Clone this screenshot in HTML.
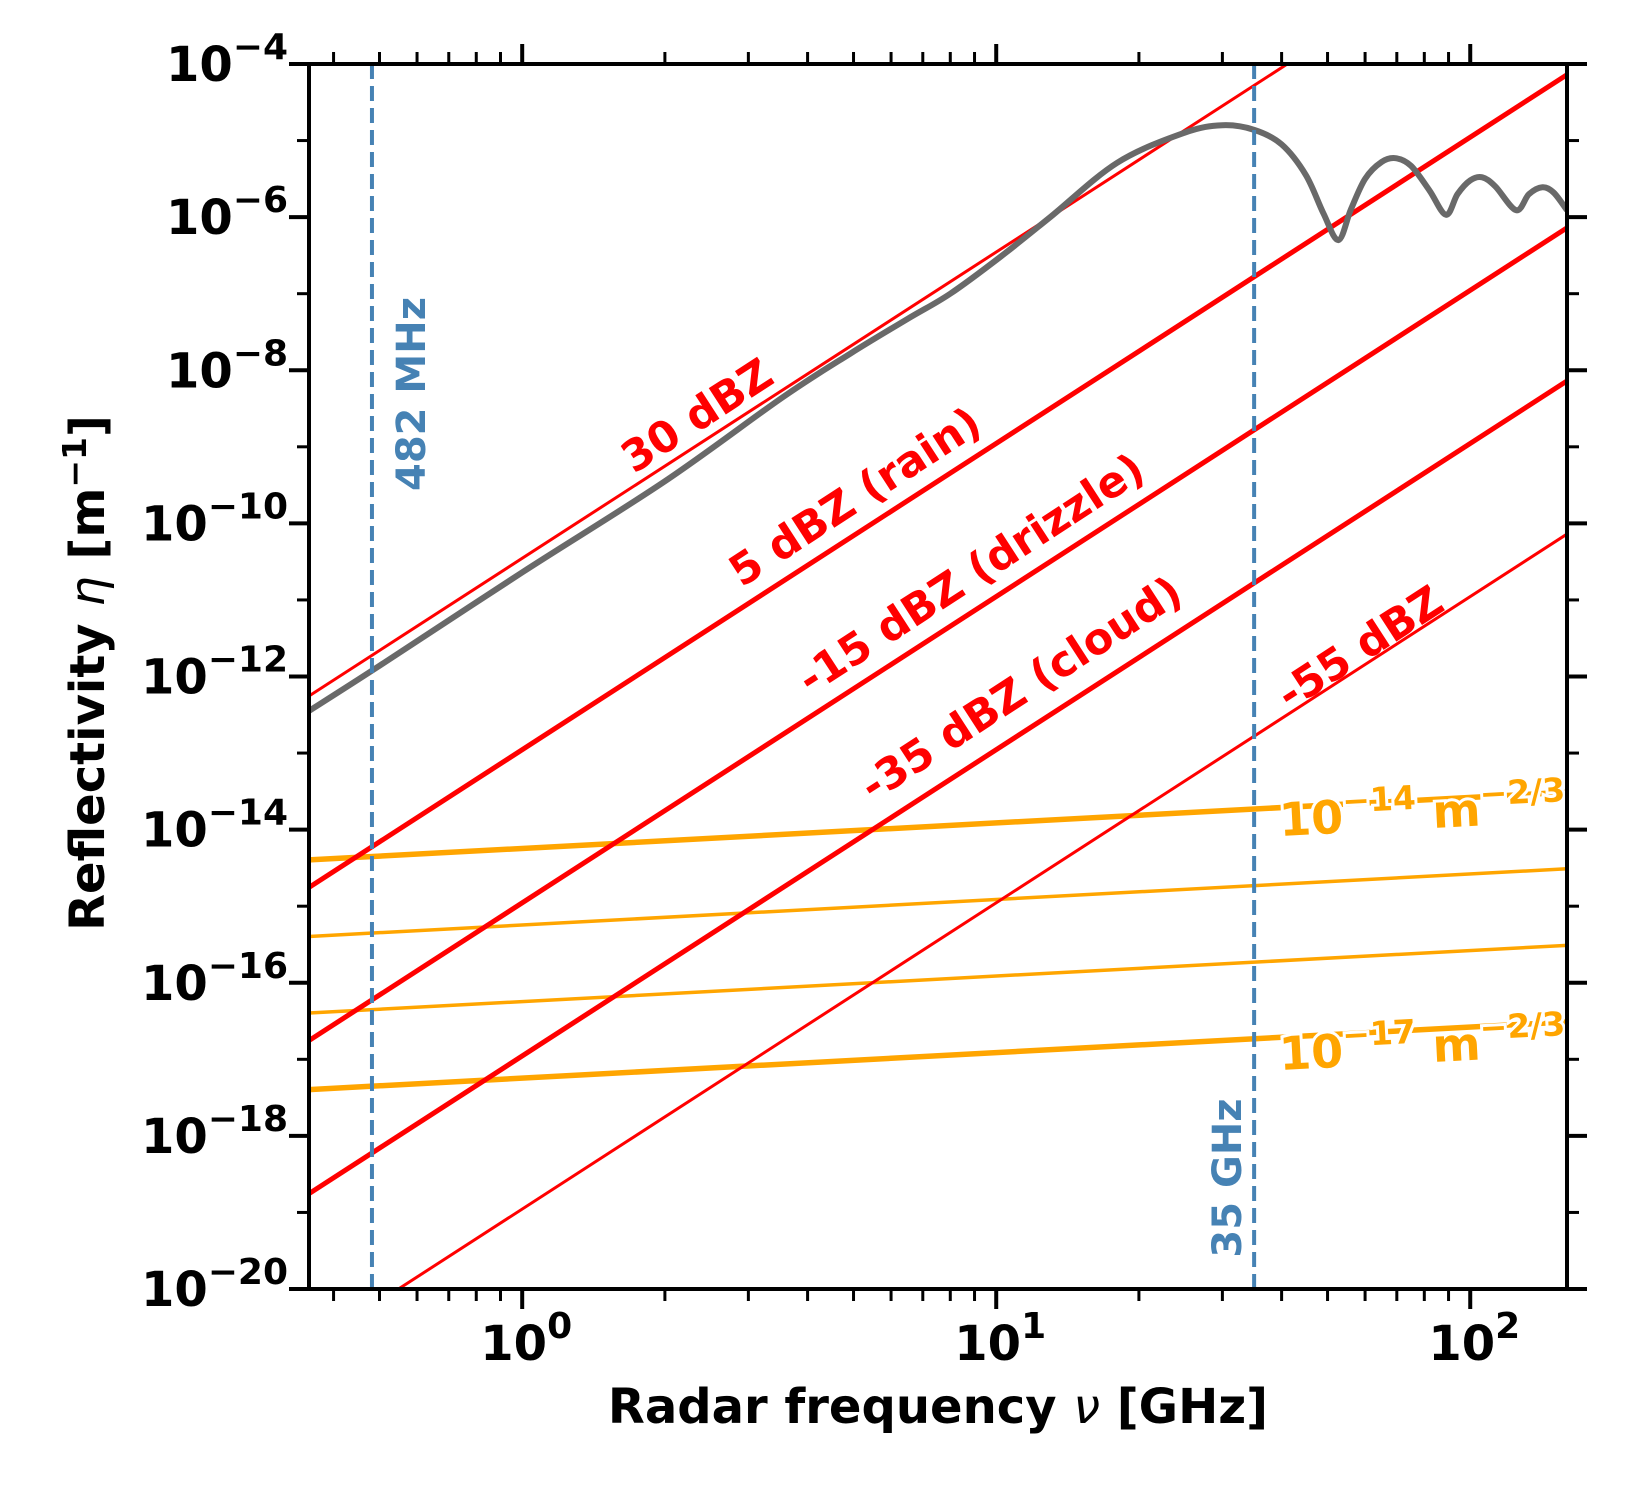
<!DOCTYPE html>
<html><head><meta charset="utf-8"><style>
html,body{margin:0;padding:0;background:#fff;}
svg{display:block;font-family:"DejaVu Sans","Liberation Sans",sans-serif;font-weight:bold;}
</style></head><body>
<svg id="chart" width="1625" height="1500" viewBox="0 0 1625 1500" xmlns="http://www.w3.org/2000/svg">
<g id="plot"></g>
<g id="axes"></g>
<text x="938" y="1423" font-size="48" text-anchor="middle">Radar frequency <tspan font-style="italic" font-weight="normal">ν</tspan> [GHz]</text>
<text transform="translate(104,673) rotate(-90)" font-size="48" text-anchor="middle">Reflectivity <tspan font-style="italic" font-weight="normal">η</tspan> [m<tspan dy="-18" font-size="33">−1</tspan><tspan dy="18">]</tspan></text>
</svg>
<script>
// ---- data ----
const dbzLevels = [30, 5, -15, -35, -55];
const dbzLabels = ["30 dBZ", "5 dBZ (rain)", "-15 dBZ (drizzle)", "-35 dBZ (cloud)", "-55 dBZ"];
const dbzThick = [false, true, true, true, false];
const cn2Exponents = [-14, -15, -16, -17];
const cn2Thick = [true, false, false, true];
const markerFreqs = [0.482, 35];
const markerLabels = ["482 MHz", "35 GHz"];
const mieFreq = [0.355,0.5,1,2,3.55,4.93,6.5,8,10.2,13,18,24.9,30,35,40,45,49,52.7,56,60,65,69.6,75,82,88.9,94,100,106,113,125,133,142,150,160];
const mieLogEta = [-12.45,-11.86,-10.64,-9.45,-8.35,-7.78,-7.33,-7.0,-6.52,-6.0,-5.29,-4.90,-4.80,-4.86,-5.05,-5.45,-5.95,-6.30,-5.9,-5.5,-5.28,-5.23,-5.33,-5.65,-5.97,-5.7,-5.52,-5.48,-5.6,-5.91,-5.7,-5.61,-5.68,-5.91];
const yMajorTicks = [-20,-18,-16,-14,-12,-10,-8,-6,-4];
const xMajorTicks = [0,1,2];

// ---- axis functions ----
const L=309,R=1567,T=64,B=1289;
const xMin=Math.log10(0.355), xMax=Math.log10(160), yMin=-20, yMax=-4;
const X = f => L+(Math.log10(f)-xMin)/(xMax-xMin)*(R-L);
const Y = le => B-(le-yMin)/(yMax-yMin)*(B-T);
const NS="http://www.w3.org/2000/svg";
function mk(tag,attrs,parent){const e=document.createElementNS(NS,tag);for(const k in attrs)e.setAttribute(k,attrs[k]);parent.appendChild(e);return e;}
const plot=document.getElementById('plot'), axes=document.getElementById('axes');
const A=3.5e-14; // eta per GHz^4 at Z = 1 mm^6/m^3

const defs=mk('defs',{},plot);
const cp=mk('clipPath',{id:'clip'},defs);
mk('rect',{x:L,y:T,width:R-L,height:B-T},cp);
const pg=mk('g',{'clip-path':'url(#clip)'},plot);

cn2Exponents.forEach((ex,i)=>{
  const le=f=>Math.log10(0.38)+ex+(-1/3)*Math.log10(0.2998/f);
  const l=mk('line',{x1:X(0.355),y1:Y(le(0.355)),x2:X(160),y2:Y(le(160)),stroke:'#ffa500','stroke-width':cn2Thick[i]?5.5:3.5},pg);
  
  
});
dbzLevels.forEach((d,i)=>{
  const le=f=>Math.log10(A)+4*Math.log10(f)+d/10;
  const l=mk('line',{x1:X(0.355),y1:Y(le(0.355)),x2:X(160),y2:Y(le(160)),stroke:'#ff0000','stroke-width':dbzThick[i]?5:3},pg);
  
  
});
const pts=mieFreq.map((f,i)=>[X(f),Y(mieLogEta[i])]);
let d='M'+pts[0][0]+','+pts[0][1];
for(let i=0;i<pts.length-1;i++){
  const p0=pts[Math.max(0,i-1)],p1=pts[i],p2=pts[i+1],p3=pts[Math.min(pts.length-1,i+2)];
  const c1=[p1[0]+(p2[0]-p0[0])/6,p1[1]+(p2[1]-p0[1])/6],c2=[p2[0]-(p3[0]-p1[0])/6,p2[1]-(p3[1]-p1[1])/6];
  d+=` C${c1[0]},${c1[1]} ${c2[0]},${c2[1]} ${p2[0]},${p2[1]}`;
}
const mie=mk('path',{d:d,fill:'none',stroke:'#696969','stroke-width':6,'stroke-linejoin':'round'},pg);


markerFreqs.forEach((f,i)=>{
  const l=mk('line',{x1:X(f),y1:T,x2:X(f),y2:B,stroke:'#4682b4','stroke-width':4,'stroke-dasharray':'15,7'},pg);
  
  
});
const m1=mk('text',{transform:`translate(${X(0.482)+53},${394}) rotate(-90)`,'font-size':40,fill:'#4682b4','text-anchor':'middle'},plot);
m1.textContent=markerLabels[0];


const m2=mk('text',{transform:`translate(${X(35)-13},${1178}) rotate(-90)`,'font-size':40,fill:'#4682b4','text-anchor':'middle'},plot);
m2.textContent=markerLabels[1];


const labPos=[[705,414],[863,495],[979,572],[1029,687],[1368,646]];
dbzLabels.forEach((s,i)=>{
  const t=mk('text',{transform:`translate(${labPos[i][0]},${labPos[i][1]+14}) rotate(-33)`,'font-size':43,fill:'#ff0000','text-anchor':'middle'},plot);
  t.textContent=s;
  
  
});
[[-14,836],[-17,1070]].forEach((o,i)=>{
  const t=mk('text',{transform:`translate(1280,${o[1]}) rotate(-3)`,'font-size':46,fill:'#ffa500',stroke:'#fff','stroke-width':6,'paint-order':'stroke'},plot);
  t.innerHTML=`10<tspan dy="-20" font-size="33">−${-o[0]}</tspan><tspan dy="20"> m</tspan><tspan dy="-20" font-size="33">−2/3</tspan>`;
  
  
});

const fr=mk('rect',{x:L,y:T,width:R-L,height:B-T,fill:'none',stroke:'#000','stroke-width':4},axes);


for(let e=-20;e<=-4;e++){
  const maj=(e%2===0), len=maj?20:12, w=maj?4:3;
  mk('line',{x1:L,y1:Y(e),x2:L-len,y2:Y(e),stroke:'#000','stroke-width':w},axes);
  mk('line',{x1:R,y1:Y(e),x2:R+len,y2:Y(e),stroke:'#000','stroke-width':w},axes);
}
yMajorTicks.forEach(e=>{
  const t=mk('text',{x:288,y:Y(e)+17,'font-size':48,'text-anchor':'end'},axes);
  t.innerHTML=`10<tspan dy="-22" font-size="36">−${-e}</tspan>`;
  
  
});
for(let p=-1;p<=2;p++){for(let k=1;k<=9;k++){
  const f=k*Math.pow(10,p); if(f<0.355||f>160) continue;
  const maj=(k===1), len=maj?20:12, w=maj?4:3;
  mk('line',{x1:X(f),y1:B,x2:X(f),y2:B+len,stroke:'#000','stroke-width':w},axes);
  mk('line',{x1:X(f),y1:T,x2:X(f),y2:T-len,stroke:'#000','stroke-width':w},axes);
}}
xMajorTicks.forEach(p=>{
  const t=mk('text',{x:X(Math.pow(10,p))+4,y:1360,'font-size':48,'text-anchor':'middle'},axes);
  t.innerHTML=`10<tspan dy="-22" font-size="36">${p}</tspan>`;
  
  
});
</script>
</body></html>
